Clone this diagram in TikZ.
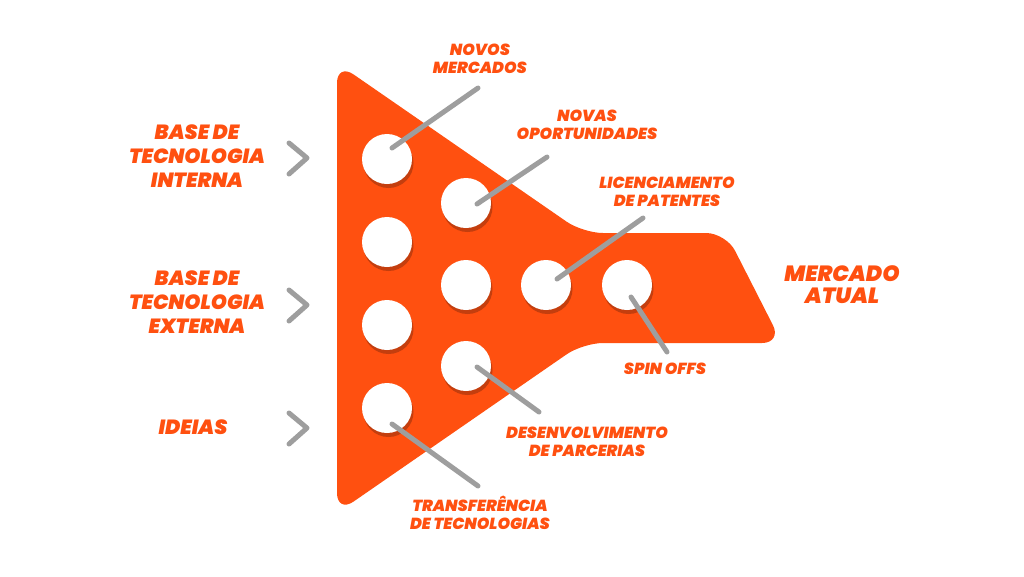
\documentclass[tikz,border=0pt]{standalone}
\usepackage{fontspec}
\setmainfont{Poppins}[BoldItalicFont={Poppins Black Italic}]
\definecolor{fun}{RGB}{255,80,16}
\definecolor{shad}{RGB}{196,62,14}
\definecolor{gline}{RGB}{158,158,158}
\begin{document}
\begin{tikzpicture}[x=1pt,y=-1pt,
  hole/.style={circle,fill=white,minimum size=50pt,inner sep=0pt},
  holeshadow/.style={circle,fill=shad,minimum size=50pt,inner sep=0pt},
  lbl/.style={text=fun,font=\fontsize{16}{18}\selectfont\bfseries\itshape,align=center,inner sep=0pt,anchor=south},
  biglbl/.style={text=fun,font=\fontsize{20.5}{24}\selectfont\bfseries\itshape,align=center,inner sep=0pt,anchor=south},
  conn/.style={draw=gline,line width=5pt,line cap=round},
  chev/.style={draw=gline,line width=5pt,line cap=round,line join=round}]
\useasboundingbox (0,0) rectangle (1024,576);
% funnel
\fill[fun,rounded corners=20pt] (337,63) -- (583,233) -- (726,233) -- (782,343) -- (583,343) -- (337,513) -- cycle;
% holes
\foreach \n/\x/\y in {a/387/159, b/387/242, c/387/325, d/387/408, e/466/203, f/466/285, g/466/366, h/546/285, i/627/285}{
  \node[holeshadow] at (\x+1.5,\y+4) {};
  \node[hole] (\n) at (\x,\y) {};
}
% labels
\node[lbl] (t1) at (480,74) {NOVOS\\MERCADOS};
\node[lbl] (t2) at (587,140) {NOVAS\\OPORTUNIDADES};
\node[lbl] (t3) at (667,207) {LICENCIAMENTO\\DE PATENTES};
\node[lbl] (t4) at (665,375) {SPIN OFFS};
\node[lbl] (t5) at (587,457) {DESENVOLVIMENTO\\DE PARCERIAS};
\node[lbl] (t6) at (480,530) {TRANSFERÊNCIA\\DE TECNOLOGIAS};
\node[biglbl,font=\fontsize{22}{22.5}\selectfont\bfseries\itshape] (t7) at (842,304) {MERCADO\\ATUAL};
\node[biglbl] (s1) at (197,188) {BASE DE\\TECNOLOGIA\\INTERNA};
\node[biglbl] (s2) at (197,334) {BASE DE\\TECNOLOGIA\\EXTERNA};
\node[biglbl] (s3) at (193,435) {IDEIAS};
% connector end points
\coordinate (e1) at (478,88);
\coordinate (e2) at (547,157);
\coordinate (e3) at (643,218);
\coordinate (e4) at (667,352);
\coordinate (e5) at (539,412);
\coordinate (e6) at (478,486);
\draw[conn] ([shift={(5,-11)}]a.center) -- (e1);
\draw[conn] ([shift={(11,1)}]e.center) -- (e2);
\draw[conn] ([shift={(11,-6)}]h.center) -- (e3);
\draw[conn] ([shift={(4,12)}]i.center) -- (e4);
\draw[conn] ([shift={(11,1)}]g.center) -- (e5);
\draw[conn] ([shift={(5,16)}]d.center) -- (e6);
% chevrons
\coordinate (k1) at (307,158);
\coordinate (k2) at (307,305);
\coordinate (k3) at (307,428);
\draw[chev] ([shift={(-18,-15)}]k1) -- (k1) -- ([shift={(-18,16)}]k1);
\draw[chev] ([shift={(-18,-15)}]k2) -- (k2) -- ([shift={(-18,16)}]k2);
\draw[chev] ([shift={(-18,-15)}]k3) -- (k3) -- ([shift={(-18,16)}]k3);
\end{tikzpicture}
\end{document}
